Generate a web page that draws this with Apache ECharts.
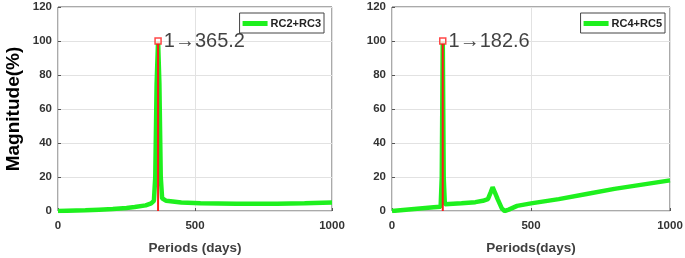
<!DOCTYPE html>
<html><head><meta charset="utf-8">
<script src="https://cdn.jsdelivr.net/npm/echarts@6/dist/echarts.min.js"></script>
<style>html,body{margin:0;padding:0;background:#fff}#c{width:685px;height:258px}</style>
</head><body><div id="c"></div>
<script>
const leftPeriods = [0,100,150,200,250,280,320,340,350,355,360,365.2,370,375,380,395,450,520,650,800,900,1000];
const leftMag     = [0,0.4,0.8,1.2,1.8,2.3,3.3,4.5,6,20,75,100,75,20,7.5,6,5,4.6,4.2,4.3,4.6,5];
const rightPeriods = [0,50,100,150,175,179,182.6,186,190,250,300,327,345,355,362,370,380,395,405,420,450,500,600,700,800,900,1000];
const rightMag     = [0,0.8,1.5,2.2,2.5,20,100,20,4,4.5,5.2,6,7,11,14,11,7,1.5,0,0.8,3,4.5,7,10,13,15.5,18];
const leftPeak = [365.2, 100];
const rightPeak = [182.6, 100];
const leftName = 'RC2+RC3', rightName = 'RC4+RC5';
const xTicks = {min:0, max:1000, interval:500};
const yTicks = {min:0, max:120, interval:20};

const green = '#1ef01e';
const chart = echarts.init(document.getElementById('c'));
function xAx(i, name){
  return {type:'value', gridIndex:i, min:xTicks.min, max:xTicks.max, interval:xTicks.interval,
    name:name, nameLocation:'middle', nameGap:30,
    nameTextStyle:{fontFamily:'Liberation Sans', fontWeight:'bold', fontSize:13.5, color:'#404040'},
    axisLine:{show:false}, axisTick:{show:true, inside:true, length:3, lineStyle:{color:'#555'}},
    axisLabel:{fontFamily:'Liberation Sans', fontWeight:'bold', fontSize:11.5, color:'#333', margin:9,
      formatter:v=>String(v)},
    splitLine:{show:true, lineStyle:{color:'#e2e2e2', width:1}}};
}
function yAx(i, name){
  return {type:'value', gridIndex:i, min:yTicks.min, max:yTicks.max, interval:yTicks.interval,
    name:name, nameLocation:'middle', nameGap:35,
    nameTextStyle:{fontFamily:'Liberation Sans', fontWeight:'bold', fontSize:19, color:'#000'},
    axisLine:{show:false}, axisTick:{show:true, inside:true, length:3, lineStyle:{color:'#555'}},
    axisLabel:{fontFamily:'Liberation Sans', fontWeight:'bold', fontSize:11.5, color:'#333', margin:6,
      formatter:v=>String(v)},
    splitLine:{show:true, lineStyle:{color:'#e2e2e2', width:1}}};
}
function zip(a,b){return a.map((v,i)=>[v,b[i]]);}
function peakSeries(i, p){
  return [
    {type:'line', xAxisIndex:i, yAxisIndex:i, data:[[p[0],0],[p[0],p[1]]], symbol:'none', silent:true,
      lineStyle:{color:'#ff1a1a', width:2}, z:4},
    {type:'scatter', xAxisIndex:i, yAxisIndex:i, data:[p], symbol:'rect', symbolSize:6,
      itemStyle:{color:'#fff', borderColor:'#ff1a1a', borderWidth:1.5}, z:5,
      label:{show:true, position:'right', distance:2, formatter:'1\u2192'+p[0].toFixed(1),
        fontFamily:'Liberation Sans', fontSize:20, color:'#111'}}
  ];
}
const legendCommon = {orient:'horizontal', itemWidth:25, itemHeight:5, itemGap:4, icon:'rect',
  borderColor:'#444', borderWidth:1, backgroundColor:'#fff', padding:[5,3,4,3], borderRadius:0,
  textStyle:{fontFamily:'Liberation Sans', fontWeight:'bold', fontSize:11, color:'#222', padding:[0,0,0,-2]}};
chart.setOption({
  animation:false,
  grid:[
    {left:58, right:353, top:7, bottom:47, containLabel:false, outerBoundsMode:'none',
      show:true, borderColor:'#555', borderWidth:1, backgroundColor:'transparent'},
    {left:392, right:15, top:7, bottom:47, containLabel:false, outerBoundsMode:'none',
      show:true, borderColor:'#555', borderWidth:1, backgroundColor:'transparent'}
  ],
  legend:[
    Object.assign({}, legendCommon, {data:[leftName], right:685-324, top:13}),
    Object.assign({}, legendCommon, {data:[rightName], right:685-665, top:13})
  ],
  xAxis:[xAx(0,'Periods (days)'), xAx(1,'Periods(days)')],
  yAxis:[yAx(0,'Magnitude(%)'), yAx(1,'')],
  series:[
    {name:leftName, type:'line', xAxisIndex:0, yAxisIndex:0, data:zip(leftPeriods,leftMag), symbol:'none',
      lineStyle:{color:green, width:4.5}, itemStyle:{color:green}, z:3},
    {name:rightName, type:'line', xAxisIndex:1, yAxisIndex:1, data:zip(rightPeriods,rightMag), symbol:'none',
      lineStyle:{color:green, width:4.5}, itemStyle:{color:green}, z:3},
    ...peakSeries(0, leftPeak),
    ...peakSeries(1, rightPeak)
  ]
});
</script></body></html>
